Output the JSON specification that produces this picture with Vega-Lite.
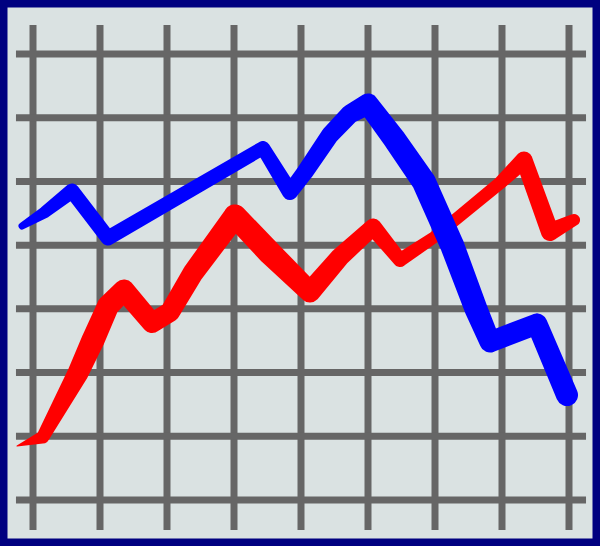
{
  "$schema": "https://vega.github.io/schema/vega-lite/v6.json",
  "width": 600,
  "height": 546,
  "padding": 0,
  "autosize": {"type": "fit", "contains": "padding"},
  "background": "#000080",
  "config": {
    "view": {"fill": "#dae2e2", "stroke": "#000080", "strokeWidth": 15}
  },
  "datasets": {
    "vgrid": [
      {"gx": 0}, {"gx": 1}, {"gx": 2}, {"gx": 3}, {"gx": 4},
      {"gx": 5}, {"gx": 6}, {"gx": 7}, {"gx": 8}
    ],
    "hgrid": [
      {"gy": 0}, {"gy": 1}, {"gy": 2}, {"gy": 3},
      {"gy": 4}, {"gy": 5}, {"gy": 6}, {"gy": 7}
    ],
    "series": [
      {"line": "red", "step": 1, "gx": -0.239, "gy": 0.848, "weight": 1},
      {"line": "red", "step": 2, "gx": 0.149, "gy": 0.989, "weight": 13},
      {"line": "red", "step": 3, "gx": 0.672, "gy": 1.993, "weight": 21},
      {"line": "red", "step": 4, "gx": 0.896, "gy": 2.511, "weight": 23},
      {"line": "red", "step": 5, "gx": 1.119, "gy": 3.044, "weight": 22},
      {"line": "red", "step": 6, "gx": 1.358, "gy": 3.296, "weight": 21},
      {"line": "red", "step": 7, "gx": 1.776, "gy": 2.778, "weight": 20},
      {"line": "red", "step": 8, "gx": 2.045, "gy": 2.951, "weight": 20},
      {"line": "red", "step": 9, "gx": 2.388, "gy": 3.563, "weight": 21},
      {"line": "red", "step": 10, "gx": 3.015, "gy": 4.458, "weight": 23},
      {"line": "red", "step": 11, "gx": 3.537, "gy": 3.877, "weight": 24},
      {"line": "red", "step": 12, "gx": 4.134, "gy": 3.265, "weight": 21},
      {"line": "red", "step": 13, "gx": 4.582, "gy": 3.814, "weight": 19},
      {"line": "red", "step": 14, "gx": 5.075, "gy": 4.285, "weight": 17},
      {"line": "red", "step": 15, "gx": 5.478, "gy": 3.767, "weight": 14},
      {"line": "red", "step": 16, "gx": 5.97, "gy": 4.112, "weight": 12},
      {"line": "red", "step": 17, "gx": 6.97, "gy": 4.976, "weight": 13},
      {"line": "red", "step": 18, "gx": 7.328, "gy": 5.337, "weight": 17},
      {"line": "red", "step": 19, "gx": 7.716, "gy": 4.207, "weight": 18},
      {"line": "red", "step": 20, "gx": 8.075, "gy": 4.395, "weight": 12},
      {"line": "blue", "step": 1, "gx": -0.164, "gy": 4.301, "weight": 7},
      {"line": "blue", "step": 2, "gx": 0.179, "gy": 4.52, "weight": 12},
      {"line": "blue", "step": 3, "gx": 0.582, "gy": 4.85, "weight": 15},
      {"line": "blue", "step": 4, "gx": 1.119, "gy": 4.112, "weight": 15},
      {"line": "blue", "step": 5, "gx": 3.433, "gy": 5.525, "weight": 14},
      {"line": "blue", "step": 6, "gx": 3.836, "gy": 4.834, "weight": 16},
      {"line": "blue", "step": 7, "gx": 4.06, "gy": 5.148, "weight": 17},
      {"line": "blue", "step": 8, "gx": 4.433, "gy": 5.729, "weight": 18},
      {"line": "blue", "step": 9, "gx": 4.731, "gy": 6.059, "weight": 19},
      {"line": "blue", "step": 10, "gx": 5.0, "gy": 6.216, "weight": 21},
      {"line": "blue", "step": 11, "gx": 5.403, "gy": 5.651, "weight": 23},
      {"line": "blue", "step": 12, "gx": 5.836, "gy": 4.991, "weight": 24},
      {"line": "blue", "step": 13, "gx": 6.254, "gy": 4.002, "weight": 24},
      {"line": "blue", "step": 14, "gx": 6.612, "gy": 2.998, "weight": 23},
      {"line": "blue", "step": 15, "gx": 6.821, "gy": 2.48, "weight": 21},
      {"line": "blue", "step": 16, "gx": 7.522, "gy": 2.762, "weight": 21},
      {"line": "blue", "step": 17, "gx": 7.97, "gy": 1.648, "weight": 22}
    ]
  },
  "layer": [
    {
      "data": {"name": "vgrid"},
      "mark": {"type": "rule", "color": "#666666", "strokeWidth": 7, "strokeCap": "butt"},
      "encoding": {
        "x": {"field": "gx", "type": "quantitative", "axis": null,
              "scale": {"domain": [-0.4925, 8.4627], "nice": false, "zero": false}},
        "y": {"datum": -0.471, "type": "quantitative", "axis": null,
              "scale": {"domain": [-0.722, 7.848], "nice": false, "zero": false}},
        "y2": {"datum": 7.455}
      }
    },
    {
      "data": {"name": "hgrid"},
      "mark": {"type": "rule", "color": "#666666", "strokeWidth": 7, "strokeCap": "butt"},
      "encoding": {
        "y": {"field": "gy", "type": "quantitative"},
        "x": {"datum": -0.254, "type": "quantitative"},
        "x2": {"datum": 8.254}
      }
    },
    {
      "data": {"name": "series"},
      "transform": [{"filter": "datum.line == 'red'"}],
      "mark": {"type": "trail", "color": "#ff0000"},
      "encoding": {
        "x": {"field": "gx", "type": "quantitative"},
        "y": {"field": "gy", "type": "quantitative"},
        "order": {"field": "step", "type": "quantitative"},
        "size": {"field": "weight", "type": "quantitative", "legend": null,
                 "scale": {"type": "linear", "domain": [0, 25], "range": [0, 25]}}
      }
    },
    {
      "data": {"name": "series"},
      "transform": [{"filter": "datum.line == 'blue'"}],
      "mark": {"type": "trail", "color": "#0000ff"},
      "encoding": {
        "x": {"field": "gx", "type": "quantitative"},
        "y": {"field": "gy", "type": "quantitative"},
        "order": {"field": "step", "type": "quantitative"},
        "size": {"field": "weight", "type": "quantitative", "legend": null,
                 "scale": {"type": "linear", "domain": [0, 25], "range": [0, 25]}}
      }
    }
  ]
}
